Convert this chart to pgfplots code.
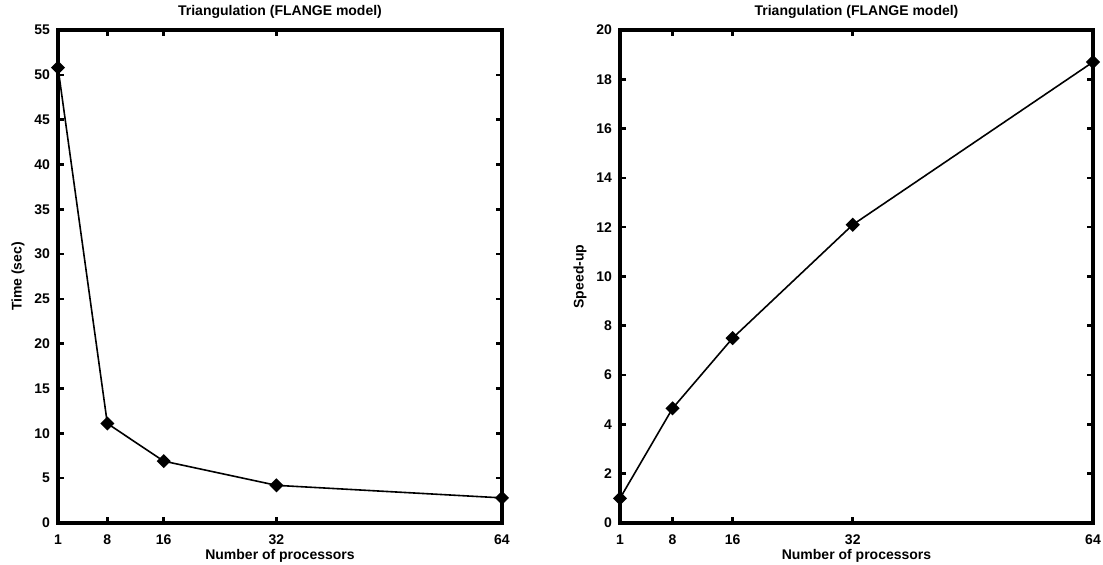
\documentclass[border=0pt]{standalone}
\usepackage{fontspec}
\setmainfont{Liberation Sans}
\usepackage{pgfplots}
\pgfplotsset{compat=1.18}

\pgfplotsset{
  every axis title shift=0pt,
  flange/.style={
    scale only axis,
    height=246.5pt,
    xmin=1, xmax=64,
    xtick={1,8,16,32,64},
    axis line style={line width=2pt},
    tick style={line width=1.3pt, black},
    major tick length=3pt,
    tick align=inside,
    font=\bfseries\fontsize{7}{8}\selectfont,
    ticklabel style={font=\bfseries\fontsize{7}{8}\selectfont},
    /pgf/number format/assume math mode=true,
    xticklabel style={yshift=-2.3pt},
    yticklabel style={xshift=-0.5pt},
    title style={at={([yshift=9pt]axis description cs:0.5,1)}, anchor=center},
    xlabel style={at={([yshift=-16.5pt]axis description cs:0.5,0)}, anchor=center},
    ylabel style={at={([xshift=-20pt]axis description cs:0,0.5)}, anchor=center},
    clip=false,
    title={Triangulation (FLANGE model)},
    xlabel={Number of processors},
  },
  runline/.style={black, line width=0.8pt, mark=square*,
    mark size=2.1pt, mark options={rotate=45, fill=black}},
}

\begin{document}
\begin{tikzpicture}
\path[use as bounding box] (-29pt,-21pt) rectangle (522.5pt,261.5pt);

% Time
\begin{axis}[flange,
  at={(0pt,0pt)}, anchor=south west,
  width=222pt,
  ymin=0, ymax=55,
  ytick={0,5,...,55},
  ylabel={Time (sec)},
]
\addplot[runline] coordinates {(1,50.8) (8,11.1) (16,6.9) (32,4.2) (64,2.8)};
\end{axis}

% Speed-up
\begin{axis}[flange,
  at={(281pt,0pt)}, anchor=south west,
  width=236.5pt,
  ymin=0, ymax=20,
  ytick={0,2,...,20},
  ylabel={Speed-up},
]
\addplot[runline] coordinates {(1,1.0) (8,4.65) (16,7.5) (32,12.1) (64,18.7)};
\end{axis}
\end{tikzpicture}
\end{document}
